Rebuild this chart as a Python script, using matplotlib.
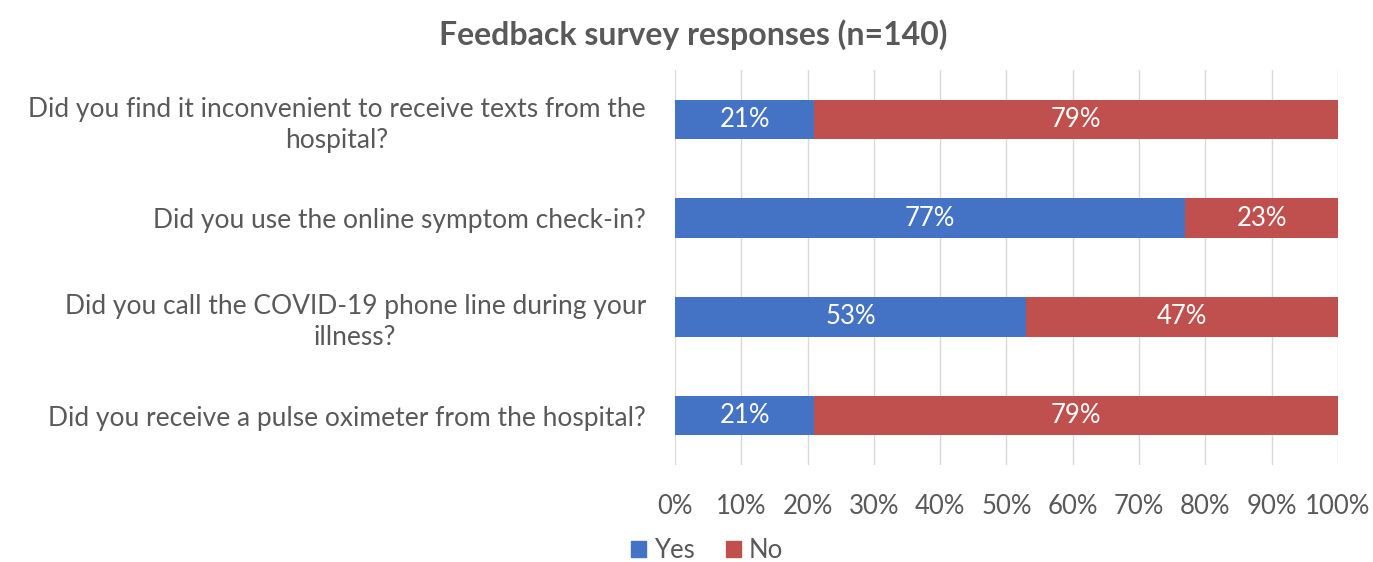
import matplotlib.pyplot as plt
from matplotlib.patches import Patch

questions = [
    'Did you find it inconvenient to receive texts from the\nhospital?',
    'Did you use the online symptom check-in?',
    'Did you call the COVID-19 phone line during your\nillness?',
    'Did you receive a pulse oximeter from the hospital?',
]
yes = [21, 77, 53, 21]
no = [79, 23, 47, 79]

BLUE = '#4472C4'
RED = '#C0504D'
GREY = '#595959'

plt.rcParams['font.family'] = ['Lato', 'DejaVu Sans']

fig = plt.figure(figsize=(13.73, 5.62), dpi=100)
ax = fig.add_axes([0.4916, 0.1726, 0.4829, 0.7028])

pos = list(range(len(questions)))[::-1]
b1 = ax.barh(pos, yes, height=0.4, color=BLUE)
b2 = ax.barh(pos, no, left=yes, height=0.4, color=RED)

for bars, vals, lefts in [(b1, yes, [0] * 4), (b2, no, yes)]:
    for p, v, l in zip(pos, vals, lefts):
        ax.text(l + v / 2, p, f'{v}%', ha='center', va='center',
                color='white', fontsize=18.5)

ax.set_xlim(0, 100)
ax.set_ylim(-0.5, 3.5)
ax.set_xticks(range(0, 101, 10))
ax.set_xticklabels([f'{t}%' for t in range(0, 101, 10)])
ax.set_yticks(pos)
ax.set_yticklabels(questions, ha='right', multialignment='center',
                   linespacing=1.3)
ax.tick_params(axis='both', length=0, colors=GREY)
ax.tick_params(axis='x', pad=21, labelsize=18.5)
ax.tick_params(axis='y', pad=21, labelsize=19)
ax.grid(axis='x', color='#D9D9D9', linewidth=1)
ax.set_axisbelow(True)
for s in ax.spines.values():
    s.set_visible(False)

fig.text(0.505, 0.938, 'Feedback survey responses (n=140)', ha='center',
         va='center', fontsize=23, fontweight='bold', color=GREY)

handles = [Patch(color=BLUE, label='Yes'), Patch(color=RED, label='No')]
fig.legend(handles=handles, loc='center', bbox_to_anchor=(0.515, 0.02),
           ncol=2, frameon=False, fontsize=18.5, handlelength=0.6,
           handleheight=0.6, handletextpad=0.3, columnspacing=1.2,
           labelcolor=GREY)

fig.savefig('out.png', dpi=100)
